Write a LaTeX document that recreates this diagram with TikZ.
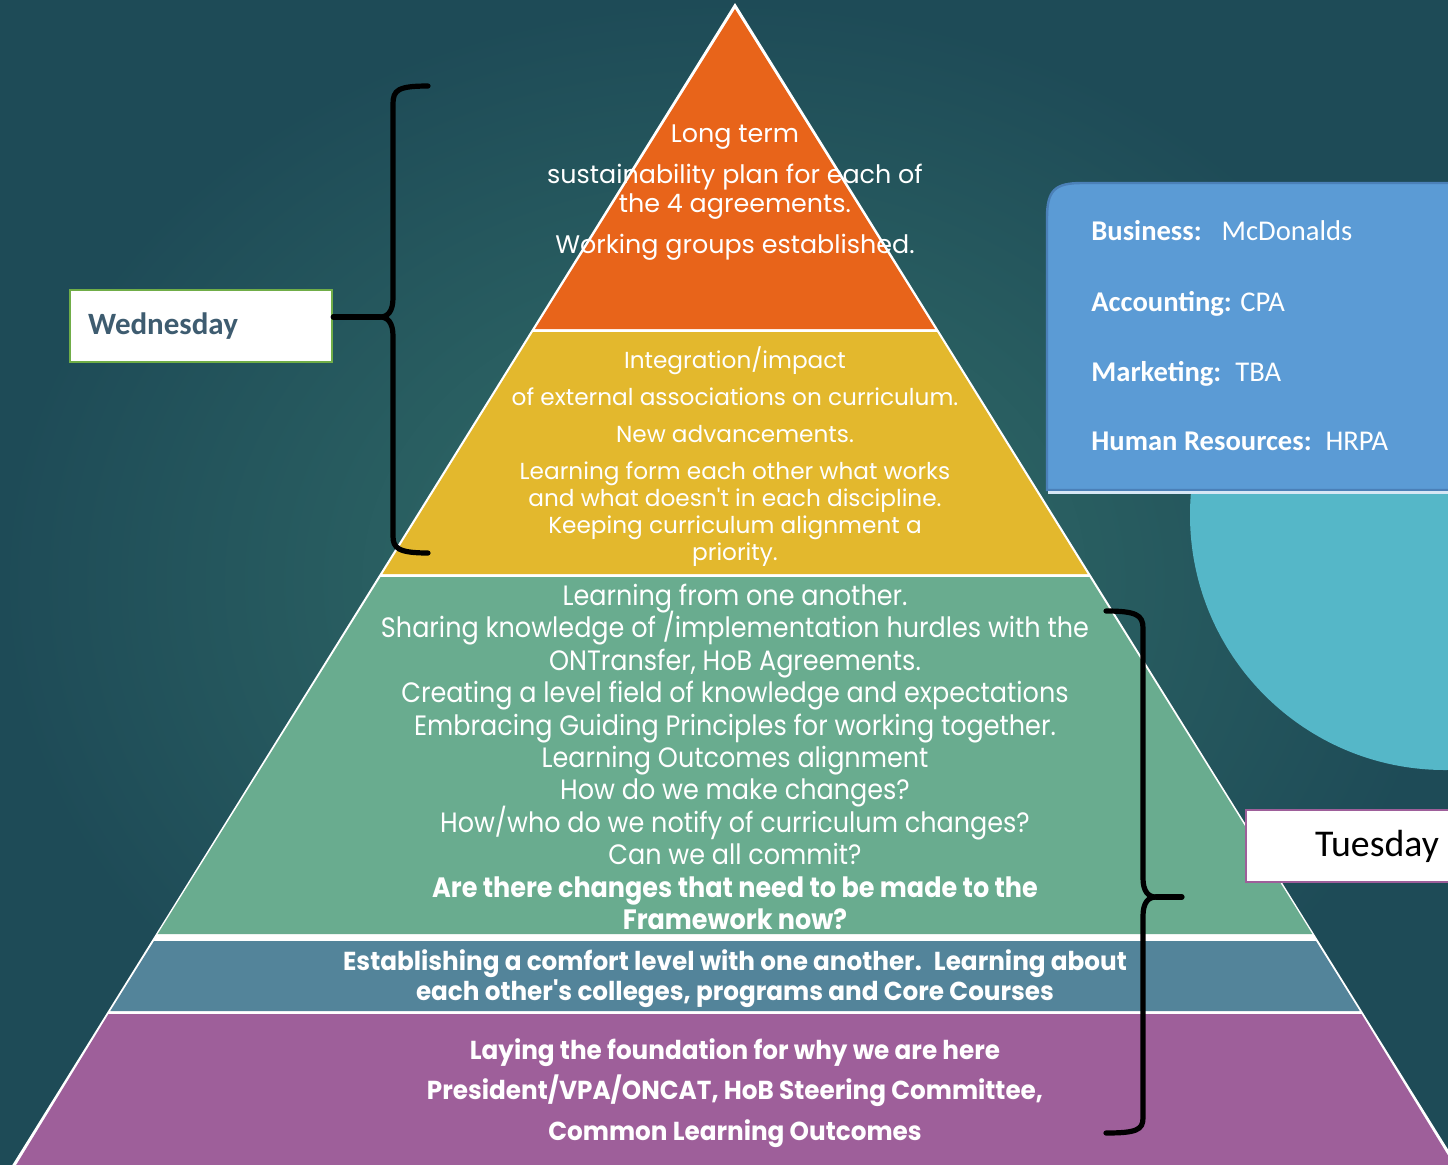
\documentclass[tikz,border=0pt]{standalone}
\usepackage{fontspec}
\setmainfont{Poppins}
\newfontfamily\gothic{Poppins}
\newfontfamily\gothiccond[FakeStretch=0.91]{Poppins}
\newfontfamily\gothicbold[FakeStretch=0.95]{Poppins}
\newfontfamily\calib{Carlito}
\newcommand\tightlines{\setlength{\lineskiplimit}{-100pt}}
\definecolor{bgin}{HTML}{33706A}
\definecolor{bgout}{HTML}{1E4B57}
\definecolor{tealcirc}{HTML}{55B7C8}
\definecolor{boxblue}{HTML}{5B9BD5}
\definecolor{boxedge}{HTML}{4B80B8}
\definecolor{toporange}{HTML}{E8641A}
\definecolor{midyellow}{HTML}{E3B82D}
\definecolor{bandgreen}{HTML}{69AC8F}
\definecolor{bandblue}{HTML}{53849A}
\definecolor{basepurple}{HTML}{9E5F9A}
\definecolor{wedgreen}{HTML}{70AD47}
\definecolor{wedtext}{HTML}{3E5C70}
\usetikzlibrary{positioning}

\begin{document}
\begin{tikzpicture}[x=0.5pt,y=-0.5pt,
    pytext/.style={text=white,align=center,inner sep=0pt},
    daybox/.style={draw,line width=1.2pt,fill=white,minimum height=36pt,
        text width=113pt,inner xsep=9pt},
    brace/.style={line width=2.6pt,line cap=round,line join=round}]
\useasboundingbox (0,0) rectangle (1448,1164);
\clip (0,0) rectangle (1448,1164);
\shade[inner color=bgin,outer color=bgout] (0,0) rectangle (1448,1164);
\fill[tealcirc] (1445,515) circle (255);

% info box
\draw[fill=boxblue,draw=boxedge,line width=1.2pt] (1047,490) -- (1047,218)
    .. controls (1047,190) and (1055,183) .. (1082,183) -- (1470,183)
    -- (1470,490) -- cycle;
\draw[white!75!boxblue,line width=1.5pt] (1048,492) -- (1470,492);
\begin{scope}[every node/.style={anchor=base west,inner sep=0pt,text=white,
    font=\calib\fontsize{14.3}{16}\selectfont}]
\node (bus) at (1091,240) {\textbf{Business:}\hspace{10pt}McDonalds};
\node (acc) at (1091,311) {\textbf{Accounting:} CPA};
\node (mkt) at (1091,381) {\textbf{Marketing:}\hspace{7pt}TBA};
\node (hr) at (1091,450) {\textbf{Human Resources:}\hspace{7pt}HRPA};
\end{scope}

% pyramid
\fill[white] (735,3) -- (3,1180) -- (1467,1180) -- cycle;
\fill[toporange] (735,9) -- (535,329) -- (935,329) -- cycle;
\fill[midyellow] (533,332) -- (382.5,574) -- (1087.5,574) -- (937,332) -- cycle;
\fill[bandgreen] (380.6,577) -- (157.7,934) -- (1312.3,934) -- (1089.4,577) -- cycle;
\fill[bandblue] (154,941) -- (110.3,1011) -- (1359.7,1011) -- (1316,941) -- cycle;
\fill[basepurple] (108.5,1014) -- (7,1180) -- (1463,1180) -- (1361.5,1014) -- cycle;

\node[pytext,font=\gothic\fontsize{12.7}{14.5}\selectfont\tightlines] (top) at (735,193)
    {Long term\\[6pt]sustainability plan for each of\\the 4 agreements.\\[6pt]Working groups established.};
\node[pytext,font=\gothic\fontsize{11.6}{13.5}\selectfont\tightlines] (mid) at (735,456.5)
    {Integration/impact\\[5pt]of external associations on curriculum.\\[5pt]New advancements.\\[5pt]Learning form each other what works\\and what doesn't in each discipline.\\Keeping curriculum alignment a\\priority.};
\node[pytext,font=\gothiccond\fontsize{14}{16.2}\selectfont\tightlines] (low) at (735,757)
    {Learning from one another.\\Sharing knowledge of /implementation hurdles with the\\ONTransfer, HoB Agreements.\\Creating a level field of knowledge and expectations\\Embracing Guiding Principles for working together.\\Learning Outcomes alignment\\How do we make changes?\\How/who do we notify of curriculum changes?\\Can we all commit?\\\textbf{Are there changes that need to be made to the}\\\textbf{Framework now?}};
\node[pytext,font=\gothicbold\bfseries\fontsize{13}{15}\selectfont\tightlines] (band) at (735,979)
    {Establishing a comfort level with one another.~ Learning about\\each other's colleges, programs and Core Courses};
\node[pytext,font=\gothicbold\bfseries\fontsize{13}{20.25}\selectfont\tightlines] (base) at (735,1093)
    {Laying the foundation for why we are here\\President/VPA/ONCAT, HoB Steering Committee,\\Common Learning Outcomes};

% day labels
\node[daybox,draw=wedgreen,text=wedtext,font=\calib\bfseries\fontsize{15.5}{18}\selectfont]
    (wed) at (201,326) {Wednesday};
\node[daybox,draw=basepurple,align=center,font=\calib\fontsize{18.9}{21}\selectfont]
    (tue) at (1377,846) {Tuesday};

% braces
\coordinate (wtip) at (380,317);
\draw[brace] (428,86) .. controls (398,86) and (393,90) .. (393,104) -- (393,298)
    .. controls (393,311) and (388,317) .. (wtip)
    .. controls (388,317) and (393,323) .. (393,336) -- (393,536)
    .. controls (393,548) and (398,553) .. (428,553);
\draw[brace] (wtip) -- (wtip -| wed.east);
\coordinate (ttip) at (1156,897);
\coordinate (tend) at (1182,897);
\draw[brace] (1106,611) .. controls (1136,611) and (1143,615) .. (1143,628) -- (1143,878)
    .. controls (1143,891) and (1148,897) .. (ttip)
    .. controls (1148,897) and (1143,903) .. (1143,916) -- (1143,1118)
    .. controls (1143,1130) and (1136,1133) .. (1106,1133);
\draw[brace] (ttip) -- (tend);
\end{tikzpicture}
\end{document}
